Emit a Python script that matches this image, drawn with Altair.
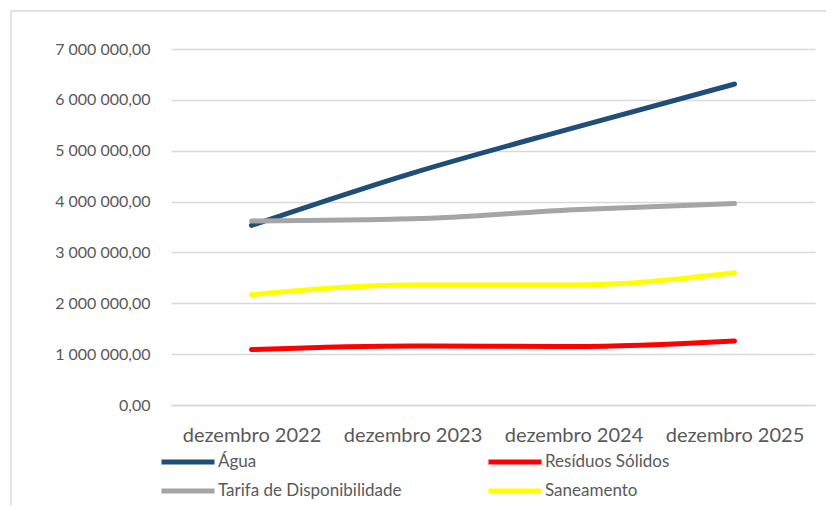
import altair as alt
import pandas as pd

categories = ["dezembro 2022", "dezembro 2023", "dezembro 2024", "dezembro 2025"]
series_names = ["Água", "Resíduos Sólidos", "Tarifa de Disponibilidade", "Saneamento"]
series_colors = ["#1f4e79", "#ff0000", "#a5a5a5", "#ffff00"]

agua = [3530000, 4560000, 5450000, 6310000]
residuos = [1090000, 1160000, 1150000, 1260000]
tarifa = [3620000, 3660000, 3840000, 3960000]
saneamento = [2170000, 2360000, 2360000, 2600000]

y_ticks = [0, 1000000, 2000000, 3000000, 4000000, 5000000, 6000000, 7000000]

rows = []
for name, vals in zip(series_names, [agua, residuos, tarifa, saneamento]):
    for c, v in zip(categories, vals):
        rows.append({"Data": c, "Série": name, "Valor": v})
df = pd.DataFrame(rows)

label_expr = ("replace(replace(replace(format(datum.value, ',.2f'), ',', ' '), ',', ' '), '.', ',')")

frame = alt.Chart(pd.DataFrame({"a": [0]})).mark_rect(
    fill="transparent", stroke="#d9d9d9", strokeWidth=1.5
).encode(
    x=alt.value(-160), x2=alt.value(720), y=alt.value(-38), y2=alt.value(520)
)

x_enc = alt.X("Data:O", sort=categories,
              scale=alt.Scale(type="point", padding=0.5),
              axis=alt.Axis(title=None, labelAngle=0, labelPadding=20, ticks=False,
                            domain=True, domainColor="#d9d9d9", domainWidth=1.5,
                            labelFontSize=20, grid=False))
y_enc = alt.Y("Valor:Q", scale=alt.Scale(domain=[0, 7000000], nice=False),
              axis=alt.Axis(title=None, values=y_ticks, labelExpr=label_expr,
                            domain=False, ticks=False, labelPadding=21,
                            grid=True, gridColor="#d9d9d9", gridWidth=1.5,
                            labelFontSize=16))


def legend_row(y, col_pad):
    return alt.Legend(title=None, orient="none", legendX=-12, legendY=y,
                      direction="horizontal",
                      symbolType="stroke", symbolSize=2809,
                      symbolStrokeWidth=5, labelFont="Lato",
                      labelFontSize=17, labelColor="#595959", labelLimit=400,
                      labelOffset=1, columnPadding=col_pad, padding=0)


def series_layer(names, colors, legend):
    sub = df[df["Série"].isin(names)]
    return alt.Chart(sub).mark_line(
        strokeWidth=5, strokeCap="round", strokeJoin="round", interpolate="monotone"
    ).encode(
        x=x_enc, y=y_enc,
        color=alt.Color("Série:N", sort=names,
                        scale=alt.Scale(domain=names, range=colors),
                        legend=legend),
    )


row1 = series_layer(series_names[:2], series_colors[:2], legend_row(384, 221))
row2 = series_layer(series_names[2:], series_colors[2:], legend_row(413, 76))

chart = alt.layer(frame, row1, row2).resolve_scale(color="independent").resolve_legend(
    color="independent"
).properties(
    width=644, height=356,
    autosize=alt.AutoSizeParams(type="none"),
    padding={"left": 163, "top": 41, "right": 11, "bottom": 100},
).configure_view(stroke=None).configure_axis(
    labelFont="Lato", labelColor="#595959"
)

chart.save("out.html", embed_options={"renderer": "svg", "actions": False})
